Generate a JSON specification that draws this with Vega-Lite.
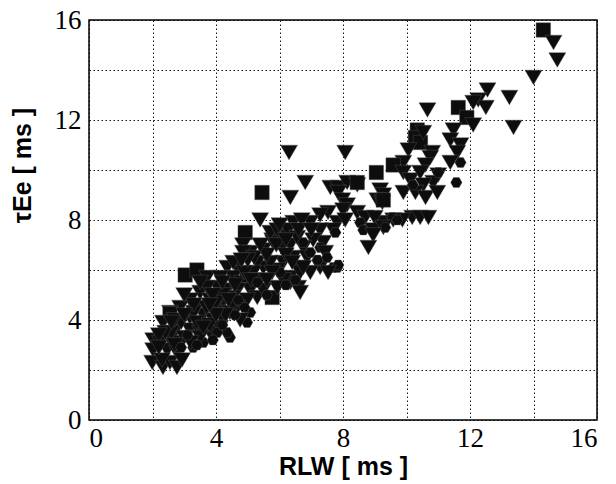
{
  "$schema": "https://vega.github.io/schema/vega-lite/v6.json",
  "autosize": {"type": "none"},
  "padding": {"left": 89, "top": 20, "right": 19, "bottom": 64},
  "width": 508,
  "height": 400,
  "background": "white",
  "config": {
    "view": {"stroke": "black", "strokeWidth": 1.5},
    "axis": {
      "grid": true, "gridColor": "black", "gridDash": [1.5, 2.5], "gridWidth": 1, "gridOpacity": 0.9,
      "domain": false, "ticks": false,
      "labelFont": "Liberation Serif", "labelFontSize": 27, "labelColor": "black",
      "titleFont": "Liberation Sans", "titleFontWeight": "bold", "titleFontSize": 25, "titleColor": "black"
    }
  },
  "data": {"values": [
    {"x":14.31,"y":15.6,"t":"s"},{"x":14.63,"y":15.1,"t":"t"},{"x":14.75,"y":14.4,"t":"t"},{"x":14.0,"y":13.7,"t":"t"},
    {"x":12.55,"y":13.2,"t":"t"},{"x":13.24,"y":12.9,"t":"t"},{"x":12.26,"y":12.8,"t":"t"},{"x":12.5,"y":12.5,"t":"t"},
    {"x":12.1,"y":12.7,"t":"t"},{"x":11.63,"y":12.5,"t":"s"},{"x":11.9,"y":12.1,"t":"s"},{"x":12.1,"y":11.8,"t":"t"},
    {"x":13.37,"y":11.7,"t":"t"},{"x":10.66,"y":12.4,"t":"t"},{"x":11.48,"y":11.6,"t":"t"},{"x":11.38,"y":11.2,"t":"t"},
    {"x":11.7,"y":11.0,"t":"t"},{"x":10.34,"y":11.6,"t":"s"},{"x":10.28,"y":11.3,"t":"s"},{"x":10.44,"y":11.1,"t":"s"},
    {"x":10.53,"y":11.5,"t":"t"},{"x":10.06,"y":10.8,"t":"t"},{"x":10.81,"y":10.7,"t":"t"},{"x":10.75,"y":10.5,"t":"t"},
    {"x":11.6,"y":10.7,"t":"t"},{"x":11.7,"y":10.3,"t":"h"},{"x":11.57,"y":9.5,"t":"h"},{"x":9.9,"y":10.3,"t":"t"},
    {"x":10.6,"y":10.2,"t":"t"},{"x":11.38,"y":10.3,"t":"t"},{"x":9.58,"y":10.2,"t":"s"},{"x":9.05,"y":9.9,"t":"s"},
    {"x":9.9,"y":9.9,"t":"t"},{"x":10.12,"y":9.6,"t":"t"},{"x":10.43,"y":9.9,"t":"t"},{"x":11.0,"y":9.8,"t":"t"},
    {"x":10.84,"y":9.5,"t":"t"},{"x":10.53,"y":9.4,"t":"t"},{"x":9.9,"y":9.1,"t":"t"},{"x":10.28,"y":9.1,"t":"t"},
    {"x":10.6,"y":8.9,"t":"t"},{"x":10.97,"y":9.1,"t":"t"},{"x":11.0,"y":9.9,"t":"h"},{"x":10.2,"y":9.4,"t":"h"},
    {"x":10.18,"y":8.1,"t":"t"},{"x":10.43,"y":8.1,"t":"t"},{"x":10.69,"y":8.1,"t":"t"},{"x":9.87,"y":8.0,"t":"t"},
    {"x":9.58,"y":8.0,"t":"t"},{"x":9.27,"y":7.9,"t":"t"},
    {"x":6.3,"y":10.7,"t":"t"},{"x":8.07,"y":10.7,"t":"t"},{"x":6.81,"y":9.5,"t":"t"},{"x":6.34,"y":8.9,"t":"t"},
    {"x":5.45,"y":9.1,"t":"s"},{"x":7.6,"y":9.3,"t":"t"},{"x":7.85,"y":9.3,"t":"t"},{"x":8.13,"y":9.5,"t":"t"},
    {"x":8.45,"y":9.4,"t":"t"},{"x":8.45,"y":9.5,"t":"s"},{"x":7.85,"y":9.1,"t":"t"},{"x":7.98,"y":8.8,"t":"t"},
    {"x":8.13,"y":8.6,"t":"t"},{"x":8.0,"y":8.4,"t":"t"},{"x":9.17,"y":9.2,"t":"t"},{"x":9.27,"y":9.0,"t":"t"},
    {"x":9.08,"y":8.8,"t":"t"},{"x":9.24,"y":8.7,"t":"t"},{"x":9.27,"y":8.8,"t":"s"},
    {"x":7.53,"y":8.3,"t":"t"},{"x":7.28,"y":8.2,"t":"t"},{"x":6.97,"y":7.9,"t":"t"},{"x":6.43,"y":7.9,"t":"t"},
    {"x":6.7,"y":8.0,"t":"t"},{"x":6.12,"y":7.4,"t":"t"},{"x":5.86,"y":7.4,"t":"t"},{"x":5.77,"y":7.2,"t":"t"},
    {"x":7.82,"y":7.9,"t":"t"},{"x":8.07,"y":8.0,"t":"t"},{"x":8.45,"y":8.3,"t":"t"},{"x":8.7,"y":8.1,"t":"t"},
    {"x":9.0,"y":8.1,"t":"t"},{"x":9.55,"y":8.1,"t":"h"},{"x":9.71,"y":8.0,"t":"h"},{"x":8.54,"y":7.9,"t":"h"},
    {"x":8.64,"y":7.6,"t":"h"},{"x":8.95,"y":7.6,"t":"t"},{"x":9.27,"y":7.7,"t":"t"},{"x":9.33,"y":7.7,"t":"h"},
    {"x":8.95,"y":7.4,"t":"t"},{"x":8.8,"y":6.9,"t":"t"},{"x":7.69,"y":7.6,"t":"t"},{"x":7.76,"y":7.5,"t":"h"},
    {"x":7.28,"y":7.6,"t":"t"},{"x":7.38,"y":7.1,"t":"t"},{"x":7.06,"y":7.2,"t":"t"},{"x":7.28,"y":6.9,"t":"h"},
    {"x":7.44,"y":6.7,"t":"t"},{"x":7.69,"y":6.1,"t":"h"},{"x":7.82,"y":6.1,"t":"h"},{"x":7.85,"y":6.2,"t":"h"},
    {"x":7.28,"y":6.1,"t":"t"},{"x":7.53,"y":5.9,"t":"t"},{"x":4.92,"y":7.5,"t":"s"},{"x":5.39,"y":8.0,"t":"t"},
    {"x":4.85,"y":7.0,"t":"t"},{"x":5.08,"y":6.7,"t":"t"},{"x":5.49,"y":6.8,"t":"t"},{"x":5.8,"y":7.1,"t":"t"},
    {"x":6.08,"y":6.9,"t":"t"},{"x":6.34,"y":7.0,"t":"t"},{"x":6.43,"y":6.5,"t":"t"},{"x":6.75,"y":6.9,"t":"t"},
    {"x":6.87,"y":6.5,"t":"t"},{"x":6.56,"y":6.1,"t":"t"},{"x":6.12,"y":6.3,"t":"t"},{"x":5.93,"y":6.0,"t":"t"},
    {"x":6.34,"y":5.7,"t":"t"},{"x":6.65,"y":5.9,"t":"t"},{"x":6.97,"y":5.9,"t":"t"},{"x":6.59,"y":5.3,"t":"t"},
    {"x":6.34,"y":5.5,"t":"t"},{"x":6.65,"y":5.1,"t":"t"},{"x":5.49,"y":6.1,"t":"t"},{"x":5.3,"y":6.3,"t":"t"},
    {"x":5.71,"y":6.3,"t":"t"},{"x":5.17,"y":5.9,"t":"t"},{"x":4.98,"y":5.6,"t":"t"},{"x":4.67,"y":6.1,"t":"t"},
    {"x":4.35,"y":6.1,"t":"t"},{"x":4.54,"y":5.7,"t":"t"},{"x":4.82,"y":5.5,"t":"t"},{"x":5.08,"y":5.2,"t":"t"},
    {"x":5.3,"y":4.9,"t":"t"},{"x":5.77,"y":4.9,"t":"s"},{"x":4.98,"y":4.8,"t":"t"},{"x":4.67,"y":4.5,"t":"t"},
    {"x":5.08,"y":4.3,"t":"h"},{"x":4.98,"y":3.9,"t":"h"},{"x":4.44,"y":3.3,"t":"h"},{"x":4.35,"y":3.5,"t":"h"},
    {"x":3.03,"y":5.8,"t":"s"},{"x":3.4,"y":6.0,"t":"s"},{"x":3.72,"y":5.7,"t":"t"},{"x":4.04,"y":5.3,"t":"t"},
    {"x":3.5,"y":5.1,"t":"t"},{"x":3.18,"y":4.8,"t":"t"},{"x":3.81,"y":4.8,"t":"t"},{"x":4.13,"y":4.5,"t":"t"},
    {"x":2.87,"y":4.5,"t":"t"},{"x":2.55,"y":4.3,"t":"t"},{"x":2.55,"y":4.25,"t":"s"},{"x":3.18,"y":4.1,"t":"t"},
    {"x":3.6,"y":4.2,"t":"t"},{"x":3.91,"y":4.0,"t":"t"},{"x":4.22,"y":4.0,"t":"t"},{"x":2.33,"y":3.9,"t":"t"},
    {"x":2.77,"y":3.7,"t":"t"},{"x":3.18,"y":3.6,"t":"t"},{"x":3.5,"y":3.5,"t":"t"},{"x":3.81,"y":3.5,"t":"t"},
    {"x":3.6,"y":3.1,"t":"h"},{"x":3.28,"y":2.9,"t":"h"},{"x":2.02,"y":3.2,"t":"t"},{"x":2.24,"y":3.1,"t":"t"},
    {"x":2.55,"y":3.2,"t":"t"},{"x":2.87,"y":3.1,"t":"t"},{"x":2.02,"y":2.8,"t":"t"},{"x":2.46,"y":2.8,"t":"t"},
    {"x":2.77,"y":2.7,"t":"t"},{"x":1.99,"y":2.3,"t":"t"},{"x":2.33,"y":2.1,"t":"t"},{"x":2.55,"y":2.3,"t":"t"},
    {"x":2.77,"y":2.1,"t":"t"},{"x":2.93,"y":2.4,"t":"t"},{"x":2.3,"y":2.4,"t":"t"},
    {"x":4.54,"y":6.3,"t":"t"},{"x":4.13,"y":5.7,"t":"t"},{"x":3.72,"y":5.3,"t":"t"},{"x":4.35,"y":5.2,"t":"t"},
    {"x":4.67,"y":5.2,"t":"t"},{"x":4.54,"y":4.9,"t":"t"},{"x":4.22,"y":4.8,"t":"t"},{"x":3.4,"y":4.5,"t":"t"},
    {"x":4.76,"y":4.0,"t":"t"},{"x":4.44,"y":4.3,"t":"t"},{"x":4.13,"y":3.7,"t":"t"},{"x":4.04,"y":3.5,"t":"h"},
    {"x":4.85,"y":6.7,"t":"t"},{"x":5.71,"y":7.5,"t":"t"},{"x":5.93,"y":7.6,"t":"t"},{"x":6.27,"y":7.6,"t":"t"},
    {"x":6.56,"y":7.3,"t":"t"},{"x":6.75,"y":7.1,"t":"h"},{"x":6.97,"y":6.7,"t":"h"},{"x":6.75,"y":6.1,"t":"t"},
    {"x":6.12,"y":5.6,"t":"t"},{"x":6.02,"y":5.9,"t":"h"},{"x":5.77,"y":5.9,"t":"t"},{"x":5.93,"y":5.3,"t":"t"},
    {"x":5.39,"y":5.6,"t":"t"},{"x":5.49,"y":5.2,"t":"t"},
    {"x":2.6,"y":3.5,"t":"t"},{"x":2.9,"y":3.9,"t":"t"},{"x":3.3,"y":4.3,"t":"t"},{"x":3.0,"y":3.3,"t":"t"},
    {"x":3.4,"y":3.9,"t":"t"},{"x":3.7,"y":4.5,"t":"t"},{"x":3.9,"y":4.4,"t":"t"},{"x":4.2,"y":5.0,"t":"t"},
    {"x":4.5,"y":4.6,"t":"t"},{"x":4.0,"y":4.7,"t":"t"},{"x":3.5,"y":3.3,"t":"t"},{"x":3.8,"y":3.8,"t":"t"},
    {"x":4.3,"y":4.2,"t":"t"},{"x":4.6,"y":5.4,"t":"t"},{"x":4.9,"y":5.9,"t":"t"},{"x":5.2,"y":6.5,"t":"t"},
    {"x":5.6,"y":6.6,"t":"t"},{"x":5.0,"y":6.4,"t":"t"},{"x":5.4,"y":7.0,"t":"t"},{"x":5.9,"y":7.0,"t":"t"},
    {"x":6.2,"y":6.6,"t":"t"},{"x":6.0,"y":7.8,"t":"t"},{"x":6.6,"y":7.6,"t":"t"},{"x":7.0,"y":7.6,"t":"t"},
    {"x":4.8,"y":6.4,"t":"t"},{"x":4.2,"y":5.5,"t":"t"},{"x":3.9,"y":5.0,"t":"t"},{"x":3.3,"y":4.6,"t":"t"},
    {"x":2.7,"y":4.0,"t":"t"},{"x":2.4,"y":3.5,"t":"t"},
    {"x":2.2,"y":3.4,"t":"t"},{"x":2.6,"y":3.9,"t":"t"},{"x":3.0,"y":4.2,"t":"t"},{"x":3.2,"y":3.1,"t":"t"},
    {"x":3.6,"y":3.7,"t":"t"},{"x":3.0,"y":5.0,"t":"t"},{"x":3.5,"y":5.5,"t":"t"},{"x":2.2,"y":2.9,"t":"t"},
    {"x":2.7,"y":3.0,"t":"t"},{"x":4.0,"y":4.2,"t":"t"},{"x":4.4,"y":4.8,"t":"t"},{"x":3.8,"y":4.6,"t":"t"},
    {"x":5.1,"y":5.6,"t":"t"},{"x":5.6,"y":5.6,"t":"t"},{"x":6.4,"y":6.3,"t":"t"},{"x":6.2,"y":7.2,"t":"t"},
    {"x":4.7,"y":4.8,"t":"h"},{"x":4.9,"y":4.5,"t":"h"},{"x":5.3,"y":5.5,"t":"h"},{"x":5.6,"y":5.0,"t":"h"},
    {"x":6.2,"y":5.4,"t":"h"},{"x":6.5,"y":5.6,"t":"h"},{"x":7.2,"y":6.4,"t":"h"},{"x":7.5,"y":6.5,"t":"h"},
    {"x":3.9,"y":3.2,"t":"h"},{"x":3.1,"y":3.4,"t":"h"},{"x":4.2,"y":3.8,"t":"h"},{"x":3.4,"y":3.0,"t":"h"},
    {"x":4.6,"y":4.2,"t":"h"},{"x":2.9,"y":2.9,"t":"h"}
  ]},
  "mark": {"type": "point", "filled": true, "fill": "#0d0d0d", "stroke": "#5a5a5a", "strokeWidth": 0.4, "opacity": 1},
  "encoding": {
    "x": {"field": "x", "type": "quantitative",
      "scale": {"domain": [0, 16], "nice": false},
      "axis": {"values": [0,2,4,6,8,10,12,14,16], "labelExpr": "datum.value % 4 === 0 ? datum.label : ''",
        "title": "RLW [ ms ]", "labelPadding": 5, "titlePadding": 3}},
    "y": {"field": "y", "type": "quantitative",
      "scale": {"domain": [0, 16], "nice": false},
      "axis": {"values": [0,2,4,6,8,10,12,14,16], "labelExpr": "datum.value % 4 === 0 ? datum.label : ''",
        "title": "τEe [ ms ]", "labelPadding": 8, "titleX": -67, "titleY": 145, "titleAlign": "center", "titleBaseline": "middle", "titleAngle": -90}},
    "shape": {"field": "t", "type": "nominal", "legend": null,
      "scale": {"domain": ["t", "s", "h"], "range": ["triangle-down", "square", "M-1,0L-0.5,-0.866L0.5,-0.866L1,0L0.5,0.866L-0.5,0.866Z"]}},
    "size": {"field": "t", "type": "nominal", "legend": null,
      "scale": {"domain": ["t", "s", "h"], "range": [290, 130, 200]}}
  }
}
